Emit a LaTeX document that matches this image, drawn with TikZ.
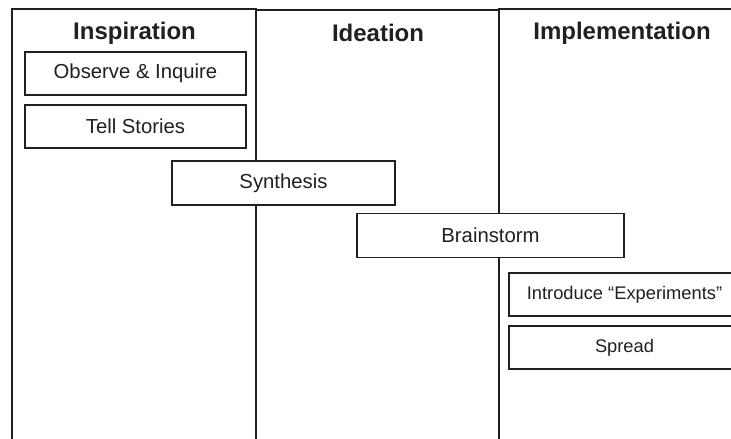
\documentclass[tikz,border=0pt]{standalone}
\usepackage{fontspec}
\setmainfont{Liberation Sans}
\definecolor{ink}{HTML}{231F20}
\begin{document}
\begin{tikzpicture}[x=1pt,y=-1pt,
  lane/.style={draw=ink, line width=1.8pt},
  header/.style={font=\fontsize{24}{28}\selectfont\bfseries, text=ink, anchor=base, inner sep=0pt},
  stepbox/.style={draw=ink, line width=1.8pt, fill=white, text=ink, inner sep=0pt,
    font=\fontsize{20.3}{24}\selectfont},
  smallstep/.style={stepbox, font=\fontsize{18.3}{22}\selectfont}
]
\clip (0,0) rectangle (731,439);
\fill[white] (0,0) rectangle (731,439);

% three phase columns
\draw[lane] (12,9) rectangle (256,470);
\draw[lane] (256,10) rectangle (499,470);
\draw[lane] (499,9) rectangle (743,470);

% column headers
\node[header] (insp) at (134.5,39) {Inspiration};
\node[header] (idea) at (378,41) {Ideation};
\node[header] (impl) at (622,39) {Implementation};

% activity boxes
\node[stepbox, minimum width=221pt, minimum height=43pt] (observe) at (135.5,73.5) {Observe \& Inquire};
\node[stepbox, minimum width=221pt, minimum height=43pt] (stories) at (135.5,126.5) {Tell Stories};
\node[stepbox, minimum width=223pt, minimum height=44pt] (synth) at (283.5,183) {Synthesis};
\node[stepbox, minimum width=267pt, minimum height=44pt] (brain) at (490.5,235.5) {Brainstorm};
\node[smallstep, minimum width=231pt, minimum height=43pt] (exper) at (624.5,294.5) {Introduce “Experiments”};
\node[smallstep, minimum width=231pt, minimum height=43pt] (spread) at (624.5,347.5) {Spread};
\end{tikzpicture}
\end{document}
